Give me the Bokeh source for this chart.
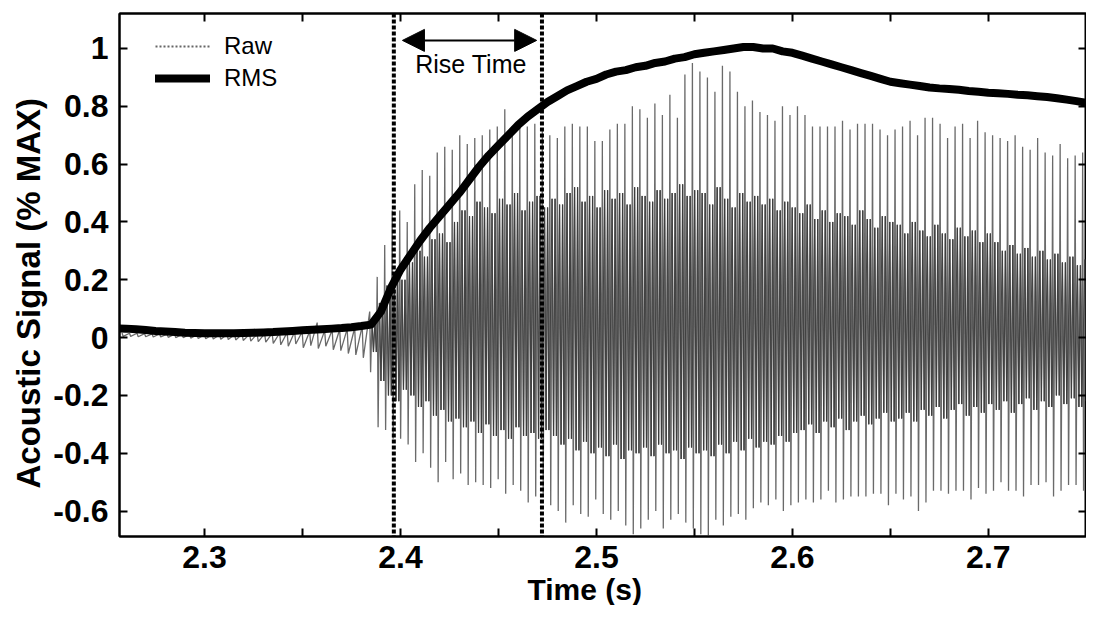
from bokeh.plotting import figure
from bokeh.models import (Range1d, LinearAxis, FixedTicker, CustomJSTickFormatter, Span,
                          Arrow, NormalHead, Label, Legend, LegendItem, Title)
from bokeh.embed import file_html
from bokeh.resources import INLINE

# ---------------- data ----------------
# RMS envelope, sampled every 5 ms starting at 2.255 s
rms_t0 = 2.255
rms_dt = 0.005
rms = [0.032, 0.031, 0.029, 0.026, 0.023, 0.021, 0.019, 0.017, 0.016, 0.015,
       0.015, 0.015, 0.015, 0.016, 0.017, 0.018, 0.019, 0.021, 0.023, 0.025,
       0.027, 0.029, 0.031, 0.033, 0.036, 0.040, 0.045, 0.090, 0.170, 0.235,
       0.285, 0.335, 0.380, 0.420, 0.460, 0.500, 0.545, 0.590, 0.630, 0.665,
       0.700, 0.735, 0.765, 0.790, 0.815, 0.835, 0.855, 0.870, 0.885, 0.895,
       0.910, 0.920, 0.925, 0.935, 0.940, 0.950, 0.955, 0.965, 0.970, 0.980,
       0.985, 0.990, 0.995, 1.000, 1.005, 1.005, 1.000, 1.000, 0.990, 0.985,
       0.975, 0.965, 0.955, 0.945, 0.935, 0.925, 0.915, 0.905, 0.895, 0.885,
       0.880, 0.875, 0.870, 0.865, 0.862, 0.860, 0.857, 0.853, 0.850, 0.847,
       0.845, 0.843, 0.840, 0.838, 0.835, 0.832, 0.828, 0.823, 0.818, 0.812,
       0.806, 0.800]

# Raw signal: one entry per oscillation cycle (period ~3.83 ms)
raw_t0 = 2.2579
raw_period = 0.00383
# quiet part before the onset
pre_hi = [0.016, 0.015, 0.015, 0.014, 0.013, 0.013, 0.012, 0.012, 0.011, 0.011,
          0.010, 0.010, 0.010, 0.010, 0.011, 0.011, 0.012, 0.012, 0.013, 0.014,
          0.015, 0.016, 0.018, 0.020, 0.020, 0.022, 0.052, 0.024, 0.026, 0.028,
          0.030, 0.034, 0.040]
pre_lo = [0.004, 0.004, 0.003, 0.003, 0.002, 0.002, 0.001, 0.000, 0.000, -0.002,
          -0.003, -0.004, -0.005, -0.006, -0.007, -0.008, -0.010, -0.012, -0.014, -0.016,
          -0.020, -0.025, -0.030, -0.022, -0.035, -0.028, -0.038, -0.030, -0.042, -0.045,
          -0.055, -0.060, -0.070]
# after the onset: outer peaks
raw_hi = [0.09, 0.21, 0.32, 0.44, 0.44, 0.40, 0.53, 0.58, 0.56, 0.64,
          0.66, 0.65, 0.70, 0.67, 0.69, 0.70, 0.72, 0.73, 0.79, 0.73,
          0.73, 0.73, 0.74, 0.72, 0.70, 0.69, 0.73, 0.74, 0.73, 0.73,
          0.68, 0.68, 0.72, 0.74, 0.74, 0.80, 0.79, 0.76, 0.81, 0.77,
          0.84, 0.76, 0.91, 0.95, 0.92, 0.90, 0.85, 0.94, 0.92, 0.85,
          0.80, 0.82, 0.78, 0.77, 0.75, 0.80, 0.77, 0.80, 0.77, 0.73,
          0.73, 0.73, 0.73, 0.75, 0.72, 0.74, 0.74, 0.74, 0.72, 0.70,
          0.72, 0.73, 0.75, 0.70, 0.76, 0.76, 0.74, 0.69, 0.73, 0.74,
          0.69, 0.75, 0.71, 0.70, 0.69, 0.68, 0.70, 0.66, 0.65, 0.69,
          0.64, 0.63, 0.67, 0.62, 0.63, 0.64, 0.64, 0.60]
raw_lo = [-0.12, -0.31, -0.32, -0.35, -0.35, -0.37, -0.43, -0.40, -0.45, -0.50,
          -0.43, -0.49, -0.47, -0.51, -0.50, -0.51, -0.52, -0.49, -0.54, -0.51,
          -0.53, -0.57, -0.55, -0.54, -0.58, -0.60, -0.64, -0.58, -0.61, -0.62,
          -0.56, -0.61, -0.63, -0.60, -0.65, -0.68, -0.66, -0.63, -0.60, -0.66,
          -0.63, -0.61, -0.64, -0.66, -0.68, -0.69, -0.63, -0.65, -0.62, -0.61,
          -0.63, -0.59, -0.57, -0.58, -0.56, -0.60, -0.58, -0.57, -0.56, -0.57,
          -0.56, -0.53, -0.57, -0.56, -0.55, -0.55, -0.55, -0.54, -0.54, -0.58,
          -0.54, -0.56, -0.55, -0.60, -0.57, -0.53, -0.53, -0.54, -0.53, -0.53,
          -0.56, -0.52, -0.54, -0.53, -0.50, -0.53, -0.53, -0.55, -0.51, -0.51,
          -0.50, -0.55, -0.53, -0.51, -0.51, -0.53, -0.50, -0.52]
# after the onset: extent of the dense inner band
inner_hi = [0.06, 0.12, 0.18, 0.22, 0.20,
            0.26, 0.30, 0.28, 0.34, 0.36, 0.33,
            0.40, 0.44, 0.42, 0.47, 0.45, 0.43, 0.48, 0.46, 0.50, 0.44, 0.47, 0.49, 0.45,
            0.48, 0.46, 0.50, 0.52, 0.47, 0.49, 0.45, 0.51, 0.48, 0.50,
            0.46, 0.52, 0.49, 0.47, 0.51, 0.48, 0.50, 0.53, 0.49, 0.51,
            0.50, 0.46, 0.52, 0.48, 0.45, 0.50, 0.47, 0.49, 0.46, 0.48, 0.44, 0.47, 0.45,
            0.43, 0.46, 0.41, 0.44, 0.40, 0.43, 0.42, 0.39, 0.44, 0.41, 0.38, 0.42, 0.40,
            0.39, 0.36, 0.40, 0.37, 0.35, 0.39, 0.36, 0.34, 0.38, 0.35, 0.37, 0.33, 0.36,
            0.33, 0.30, 0.32, 0.29, 0.31, 0.28, 0.30, 0.27, 0.29, 0.26, 0.28, 0.25, 0.27, 0.26, 0.24]
inner_lo = [-0.05, -0.15, -0.20, -0.22, -0.18,
            -0.20, -0.24, -0.22, -0.27, -0.25, -0.29,
            -0.28, -0.31, -0.29, -0.33, -0.30, -0.34, -0.32, -0.35, -0.31, -0.34, -0.33, -0.35, -0.32,
            -0.34, -0.37, -0.35, -0.39, -0.36, -0.40, -0.38, -0.41, -0.37, -0.42,
            -0.39, -0.40, -0.38, -0.41, -0.37, -0.40, -0.39, -0.42, -0.38, -0.40,
            -0.39, -0.41, -0.37, -0.40, -0.36, -0.39, -0.35, -0.38, -0.36, -0.37, -0.34, -0.36, -0.33,
            -0.32, -0.30, -0.33, -0.29, -0.31, -0.28, -0.32, -0.29, -0.27, -0.30, -0.28, -0.26, -0.29,
            -0.28, -0.26, -0.29, -0.25, -0.27, -0.24, -0.28, -0.25, -0.23, -0.27, -0.24, -0.26, -0.23,
            -0.25, -0.22, -0.26, -0.23, -0.21, -0.25, -0.22, -0.24, -0.20, -0.23, -0.21, -0.24, -0.22, -0.20, -0.23]

rise_start = 2.3966
rise_end = 2.4722
arrow_from = 2.401
arrow_to = 2.4695
arrow_y = 1.028
rise_label = "Rise Time"
rise_label_x = 2.436
rise_label_y = 0.945

x_ticks = [2.3, 2.4, 2.5, 2.6, 2.7]
x_minor_ticks = [2.35, 2.45, 2.55, 2.65, 2.75]
y_ticks = [-0.6, -0.4, -0.2, 0, 0.2, 0.4, 0.6, 0.8, 1]
x_title = "Time (s)"
y_title = "Acoustic Signal (% MAX)"

# ---------------- build series ----------------
rms_t = [rms_t0 + i * rms_dt for i in range(len(rms))]

raw_x, raw_y = [], []
for i, (h, l) in enumerate(zip(pre_hi, pre_lo)):
    t = raw_t0 + i * raw_period
    raw_x += [t, t + 0.15 * raw_period]
    raw_y += [h, l]
n_pre = len(pre_hi)
fracs = [0.0, 0.12, 0.30, 0.50, 0.70, 0.88]
band_x, band_y = [], []
for k in range(len(raw_hi)):
    t = raw_t0 + (n_pre + k) * raw_period
    vals = [raw_hi[k], raw_lo[k], inner_hi[k], inner_lo[k], inner_hi[k], inner_lo[k]]
    for j, (f, v) in enumerate(zip(fracs, vals)):
        raw_x.append(t + f * raw_period)
        raw_y.append(v)
        if j >= 2:
            band_x.append(t + f * raw_period)
            band_y.append(v)

# ---------------- figure ----------------
FONT = "Liberation Sans"
p = figure(width=1086, height=605, title=None,
           x_range=Range1d(2.2566, 2.7501), y_range=Range1d(-0.688, 1.121),
           x_axis_location=None, y_axis_location=None,
           output_backend="svg", toolbar_location=None,
           min_border_left=119, min_border_top=13, min_border_right=0, min_border_bottom=0)
p.grid.visible = False
p.background_fill_color = "white"
p.border_fill_color = "white"
p.outline_line_color = "black"
p.outline_line_width = 2

fmt = CustomJSTickFormatter(code="return tick.toFixed(1).replace(/\\.0$/, '');")
blank = CustomJSTickFormatter(code="return '';")


def style_axis(ax, labels=True):
    ax.axis_line_color = "black"
    ax.axis_line_width = 2
    ax.major_tick_in = 8
    ax.major_tick_out = 0
    ax.minor_tick_in = 8
    ax.minor_tick_out = 0
    ax.major_tick_line_width = 2
    ax.minor_tick_line_width = 2
    ax.major_tick_line_color = "black"
    ax.minor_tick_line_color = "black"
    ax.major_label_text_font = FONT
    ax.major_label_text_font_style = "bold"
    ax.major_label_text_font_size = "32px" if labels else "1px"
    ax.major_label_text_color = "black"
    ax.major_label_standoff = 11 if labels else 0


xb = LinearAxis(ticker=FixedTicker(ticks=x_ticks, minor_ticks=x_minor_ticks), formatter=fmt)
style_axis(xb)
xb.major_label_standoff = 9
p.add_layout(xb, "below")
xt = LinearAxis(ticker=FixedTicker(ticks=x_ticks, minor_ticks=x_minor_ticks), formatter=blank)
style_axis(xt, labels=False)
p.add_layout(xt, "above")
yl = LinearAxis(ticker=FixedTicker(ticks=y_ticks, minor_ticks=[]), formatter=fmt)
style_axis(yl)
p.add_layout(yl, "left")
yr = LinearAxis(ticker=FixedTicker(ticks=y_ticks, minor_ticks=[]), formatter=blank)
style_axis(yr, labels=False)
p.add_layout(yr, "right")

tb = Title(text=x_title, align="left", offset=408, text_font=FONT, text_font_style="bold",
           text_font_size="30px", text_color="black", standoff=0)
p.add_layout(tb, "below")
tl = Title(text=y_title, align="left", offset=48, text_font=FONT, text_font_style="bold",
           text_font_size="33px", text_color="black", standoff=8)
p.add_layout(tl, "left")

# glyphs
raw_r = p.line(raw_x, raw_y, line_color="#6a6a6a", line_width=1.3)
band_r = p.line(band_x, band_y, line_color="#3c3c3c", line_width=0.9)
rms_r = p.line(rms_t, rms, line_color="black", line_width=8, line_join="round", line_cap="round")
raw_legend_r = p.line([float("nan")], [float("nan")], line_color="#666666", line_width=2,
                      line_dash="2 2")

for loc in (rise_start, rise_end):
    p.add_layout(Span(location=loc, dimension="height", line_color="black",
                      line_width=4, line_dash="4 2"))

p.add_layout(Arrow(start=NormalHead(size=22, fill_color="black", line_color="black"),
                   end=NormalHead(size=22, fill_color="black", line_color="black"),
                   x_start=arrow_from, y_start=arrow_y, x_end=arrow_to, y_end=arrow_y,
                   line_color="black", line_width=2))
p.add_layout(Label(x=rise_label_x, y=rise_label_y, text=rise_label, text_align="center",
                   text_baseline="middle", text_font=FONT, text_font_size="25px",
                   text_color="black"))

legend = Legend(items=[LegendItem(label="Raw", renderers=[raw_legend_r]),
                       LegendItem(label="RMS", renderers=[rms_r])],
                location=(36, 444), orientation="vertical",
                border_line_color=None, background_fill_alpha=0,
                label_text_font=FONT, label_text_font_size="24px", label_text_color="black",
                glyph_width=55, glyph_height=28, label_height=28,
                spacing=4, padding=0, margin=0, label_standoff=14)
p.add_layout(legend)

open("out.html", "w").write(file_html(p, INLINE))
